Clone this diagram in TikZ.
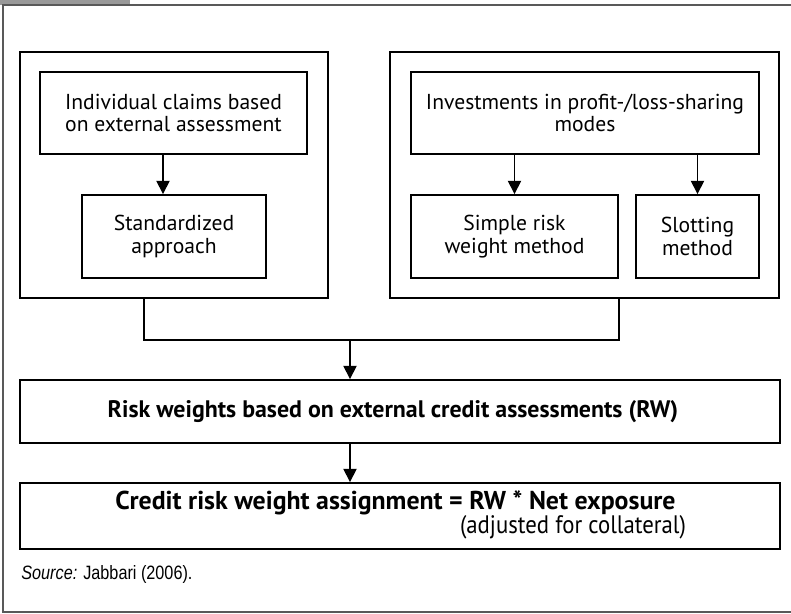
\documentclass[tikz,border=0pt]{standalone}
\usepackage{fontspec}
\setmainfont{PT Sans}
\newfontfamily\condfont[FakeStretch=0.9]{PT Sans}
\newfontfamily\srcfont[FakeStretch=0.84]{Liberation Sans}
\usepackage{tikz}
\usetikzlibrary{positioning, arrows.meta}
\tikzstyle{box} = [
    rectangle,
    draw,
    line width = 1.1pt,
    text centered,
    align = center,
    inner sep = 0pt,
    font = \fontsize{12.3}{12.8}\selectfont
]
\tikzstyle{group} = [
    rectangle,
    draw,
    line width = 1.1pt,
    inner sep = 0pt
]
\tikzstyle{arr} = [-{Triangle[length = 7.5pt, width = 7.5pt]}, line width = 0.9pt]
\tikzstyle{link} = [line width = 0.9pt]

\begin{document}
\begin{tikzpicture}[x = 0.02cm, y = -0.02cm]
    \useasboundingbox (0, 0) rectangle (791, 613);
    \fill[black!40] (0, 0) rectangle (130, 5);
    \draw[black!65, line width = 0.6pt] (791, 5) -- (3, 5) -- (3, 612) -- (791, 612);

    \node[group, minimum width = 6.16cm, minimum height = 4.92cm] (leftgrp) at (174, 175) {};
    \node[group, minimum width = 7.78cm, minimum height = 4.92cm] (rightgrp) at (584.5, 175) {};

    \node[box, minimum width = 5.34cm, minimum height = 1.64cm] (claims) at (173.5, 113)
        {Individual claims based\\on external assessment};
    \node[box, minimum width = 3.68cm, minimum height = 1.66cm] (std) at (174, 236.5)
        {Standardized\\approach};
    \node[box, minimum width = 6.96cm, minimum height = 1.64cm] (invest) at (585, 113)
        {Investments in profit-/loss-sharing\\modes};
    \node[box, minimum width = 4.14cm, minimum height = 1.66cm] (simple) at (514.5, 236.5)
        {Simple risk\\weight method};
    \node[box, minimum width = 2.46cm, minimum height = 1.66cm] (slot) at (697.5, 236.5)
        {Slotting\\method};

    \node[box, minimum width = 15.2cm, minimum height = 1.26cm,
        font = \bfseries\fontsize{13.6}{15}\selectfont] (rw) at (400, 411.5)
        {\hspace*{-0.28cm}Risk weights based on external credit assessments (RW)};
    \node[box, minimum width = 15.2cm, minimum height = 1.32cm] (credit) at (400, 516) {};
    \node[font = \bfseries\fontsize{14.7}{16}\selectfont, inner sep = 0pt] (formula) at (395.5, 503)
        {Credit risk weight assignment = RW * Net exposure};
    \node[font = \condfont\fontsize{14.4}{16}\selectfont, inner sep = 0pt] (collateral) at (573, 527)
        {(adjusted for collateral)};

    \node[font = \srcfont\fontsize{11}{13}\selectfont, anchor = west, inner sep = 0pt] (source) at (21, 574)
        {\textit{Source:} Jabbari (2006).};

    \coordinate (claimsarr) at (163, 0);
    \coordinate (ljoin) at (144, 340);
    \coordinate (rjoin) at (619, 340);
    \coordinate (mjoin) at (350, 340);

    \draw[arr] (claims.south -| claimsarr) -- (std.north -| claimsarr);
    \draw[arr] (invest.south -| simple) -- (simple.north);
    \draw[arr] (invest.south -| slot) -- (slot.north);

    \draw[link] (leftgrp.south -| ljoin) -- (ljoin) -- (rjoin) -- (rightgrp.south -| rjoin);
    \draw[arr] (mjoin) -- (rw.north -| mjoin);
    \draw[arr] (rw.south -| mjoin) -- (credit.north -| mjoin);
\end{tikzpicture}
\end{document}
